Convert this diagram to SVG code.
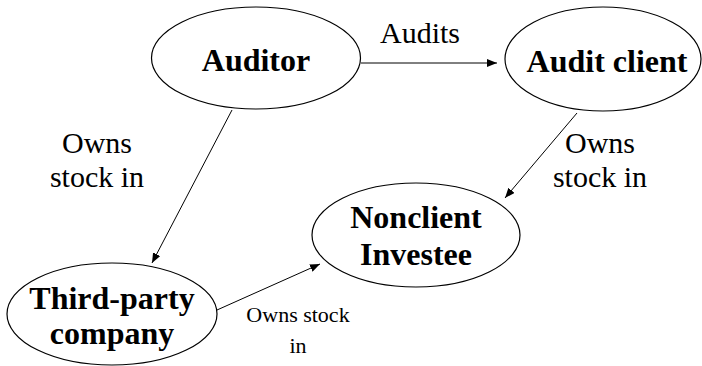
<svg xmlns="http://www.w3.org/2000/svg" width="702" height="366" viewBox="0 0 702 366">
<style>
.node ellipse{fill:#fff;stroke:#000;stroke-width:1.2}
text{font-family:'Liberation Serif','Times New Roman',Times,Tinos,serif;fill:#000;text-anchor:middle}
.nt{font-weight:bold;font-size:32px}
.lb{font-size:30px}
.lbs{font-size:22px}
.edge{stroke:#000;stroke-width:1;fill:none;marker-end:url(#ah)}
</style>
<defs>
<marker id="ah" viewBox="0 0 10 8" refX="10" refY="4" markerWidth="10" markerHeight="8" markerUnits="userSpaceOnUse" orient="auto">
<path d="M0,0 L10,4 L0,8 Z" fill="#000"/>
</marker>
</defs>
<rect width="702" height="366" fill="#fff"/>
<g id="connectors">
<line class="edge" x1="361" y1="63" x2="497" y2="63"/>
<line class="edge" x1="232" y1="110" x2="152" y2="263"/>
<line class="edge" x1="577" y1="113" x2="505" y2="198"/>
<line class="edge" x1="217" y1="310" x2="320" y2="264"/>
</g>
<g id="labels">
<text class="lb" x="420" y="43">Audits</text>
<text class="lb" x="97" y="153">Owns</text>
<text class="lb" x="97" y="187">stock in</text>
<text class="lb" x="600" y="153">Owns</text>
<text class="lb" x="600" y="187">stock in</text>
<text class="lbs" x="298" y="322">Owns stock</text>
<text class="lbs" x="298" y="353">in</text>
</g>
<g id="auditor" class="node">
<ellipse cx="256" cy="58" rx="104.5" ry="51"/>
<text class="nt" x="256" y="71">Auditor</text>
</g>
<g id="audit-client" class="node">
<ellipse cx="603" cy="59" rx="98" ry="52"/>
<text class="nt" x="607" y="72">Audit client</text>
</g>
<g id="nonclient-investee" class="node">
<ellipse cx="416" cy="235" rx="104" ry="52"/>
<text class="nt" x="416" y="228">Nonclient</text>
<text class="nt" x="416" y="265">Investee</text>
</g>
<g id="third-party" class="node">
<ellipse cx="112" cy="314" rx="105" ry="51"/>
<text class="nt" x="112" y="309">Third-party</text>
<text class="nt" x="112" y="344">company</text>
</g>
</svg>
